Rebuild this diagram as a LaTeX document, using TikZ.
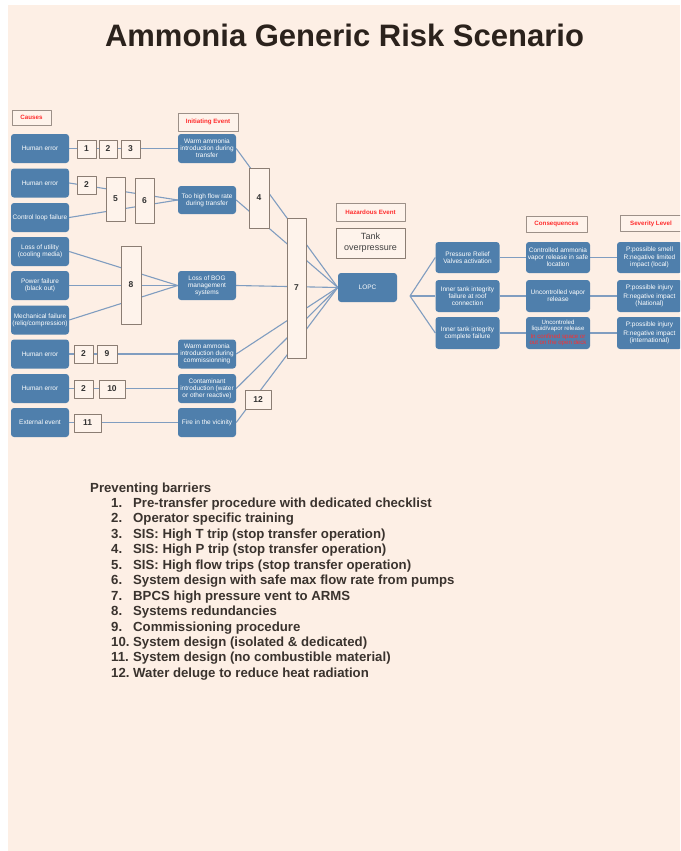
\documentclass[tikz,border=0pt]{standalone}
\usepackage{fontspec}
\setmainfont{Liberation Sans}
\definecolor{pagebg}{RGB}{253,239,229}
\definecolor{boxblue}{RGB}{79,127,172}
\definecolor{linkblue}{RGB}{128,157,192}
\definecolor{barfill}{RGB}{254,243,235}
\definecolor{barline}{RGB}{139,125,115}
\definecolor{titletxt}{RGB}{43,34,28}
\definecolor{listtxt}{RGB}{58,51,46}
\definecolor{hdrred}{RGB}{255,45,45}
\pgfdeclarelayer{back}
\pgfdeclarelayer{lines}
\pgfsetlayers{back,lines,main}
\begin{document}
\begin{tikzpicture}[x=1pt,y=-1pt,line join=round,line cap=round,
	blk/.style={fill=boxblue,text=white,rounded corners=3pt,inner sep=0pt,align=center,font=\fontsize{6.5}{7}\selectfont},
	cause/.style={blk,minimum width=58pt,minimum height=29pt},
	outc/.style={blk,minimum width=64pt,minimum height=32pt},
	bar/.style={draw=barline,fill=barfill,line width=1pt,inner sep=0pt,minimum height=18pt,font=\fontsize{8.5}{9}\selectfont\bfseries,text=black!80},
	hdr/.style={draw=barline!85,fill=barfill,line width=1pt,inner sep=0pt,text=hdrred,font=\fontsize{6.2}{7}\selectfont\bfseries},
	link/.style={draw=linkblue,line width=1.1pt}]
	\useasboundingbox (0,0) rectangle (680,851);
	\clip (0,0) rectangle (680,851);
	\begin{pgfonlayer}{back}
		\fill[pagebg] (8,5) rectangle (680,851);
	\end{pgfonlayer}
	\node[anchor=base,font=\fontsize{31}{36}\selectfont\bfseries,text=titletxt] (title) at (344.5,47) {Ammonia Generic Risk Scenario};
	% headers
	\node[hdr,minimum width=39pt,minimum height=15pt] (hcause) at (31.5,117.5) {Causes};
	\node[hdr,minimum width=60pt,minimum height=18pt] (hinit) at (208,122) {Initiating Event};
	\node[hdr,minimum width=69pt,minimum height=18pt] (hhaz) at (370.5,212) {Hazardous Event};
	\node[hdr,minimum width=61pt,minimum height=16pt] (hcons) at (556.5,224) {Consequences};
	\node[hdr,minimum width=62pt,minimum height=16pt] (hsev) at (651,223.5) {Severity Level};
	% causes
	\node[cause] (he1) at (40,148.5) {Human error};
	\node[cause] (he2) at (40,183) {Human error};
	\node[cause] (clf) at (40,217.5) {Control loop failure};
	\node[cause] (lou) at (40,251.5) {Loss of utility\\(cooling media)};
	\node[cause] (pf) at (40,285.5) {Power failure\\(black out)};
	\node[cause] (mf) at (40,320) {Mechanical failure\\(reliq/compression)};
	\node[cause] (he3) at (40,354) {Human error};
	\node[cause] (he4) at (40,388.5) {Human error};
	\node[cause] (ext) at (40,422.5) {External event};
	% initiating events
	\node[cause] (wat) at (207,148.5) {Warm ammonia\\introduction during\\transfer};
	\node[cause,minimum height=28pt] (hfr) at (207,200) {Too high flow rate\\during transfer};
	\node[cause] (bog) at (207,285.5) {Loss of BOG\\management\\systems};
	\node[cause] (wac) at (207,354) {Warm ammonia\\introduction during\\commissionning};
	\node[cause] (cont) at (207,388.5) {Contaminant\\introduction (water\\or other reactive)};
	\node[cause] (fire) at (207,422.5) {Fire in the vicinity};
	% barriers
	\node[bar,minimum width=19pt] (b1) at (86.5,149) {1};
	\node[bar,minimum width=18pt] (b2a) at (108,149) {2};
	\node[bar,minimum width=19pt] (b3) at (130.5,149) {3};
	\node[bar,minimum width=19pt] (b2b) at (86.5,185) {2};
	\node[bar,minimum width=19pt,minimum height=44pt] (b5) at (115.5,199) {5};
	\node[bar,minimum width=19pt,minimum height=45pt] (b6) at (144.5,200.5) {6};
	\node[bar,minimum width=20pt,minimum height=78pt] (b8) at (131,285) {8};
	\node[bar,minimum width=19pt] (b2c) at (83.5,354) {2};
	\node[bar,minimum width=20pt] (b9) at (107,354) {9};
	\node[bar,minimum width=19pt] (b2d) at (83.5,389) {2};
	\node[bar,minimum width=26pt] (b10) at (112,389) {10};
	\node[bar,minimum width=27pt] (b11) at (87.5,423) {11};
	\node[bar,minimum width=20pt,minimum height=60pt] (b4) at (259,198) {4};
	\node[bar,minimum width=19pt,minimum height=140pt] (b7) at (296.5,288) {7};
	\node[bar,minimum width=26pt,minimum height=19pt] (b12) at (258,399.5) {12};
	% hazardous event
	\node[draw=barline,fill=barfill,line width=1pt,inner sep=0pt,minimum width=69pt,minimum height=30pt,align=center,font=\fontsize{9}{10.7}\selectfont,text=black!75] (tank) at (370.5,243) {Tank\\overpressure};
	\node[blk,minimum width=59pt,minimum height=29pt] (lopc) at (367.5,287.5) {LOPC};
	\coordinate (fan) at (410,296);
	% outcomes and consequences
	\node[outc,minimum height=31pt] (prv) at (467.5,257.5) {Pressure Relief\\Valves activation};
	\node[outc] (itr) at (467.5,296) {Inner tank integrity\\failure at roof\\connection};
	\node[outc] (itc) at (467.5,333) {Inner tank integrity\\complete failure};
	\node[outc,minimum height=31pt] (q1) at (558,257.5) {Controlled ammonia\\vapor release in safe\\location};
	\node[outc] (q2) at (558,296) {Uncontrolled vapor\\release};
	\node[outc,font=\fontsize{6.1}{6.4}\selectfont] (q3) at (558,333) {Uncontroled\\liquid/vapor release\\[1.5pt]\textcolor{hdrred}{In confined space or}\\\textcolor{hdrred}{out on the open deck}};
	\node[outc,minimum height=31pt,minimum width=65pt] (s1) at (649.5,257.5) {P:possible smell\\[1.5pt]R:negative limited\\impact (local)};
	\node[outc,minimum width=65pt] (s2) at (649.5,296) {P:possible injury\\[1.5pt]R:negative impact\\(National)};
	\node[outc,minimum width=65pt] (s3) at (649.5,333) {P:possible injury\\[1.5pt]R:negative impact\\(international)};
	% connectors
	\begin{pgfonlayer}{lines}
		\draw[link] (he1.east) -- (wat.west);
		\draw[link] (he2.east) -- (hfr.west);
		\draw[link] (clf.east) -- (hfr.west);
		\draw[link] (lou.east) -- (bog.west);
		\draw[link] (pf.east) -- (bog.west);
		\draw[link] (mf.east) -- (bog.west);
		\draw[link] (he3.east) -- (wac.west);
		\draw[link] (he4.east) -- (cont.west);
		\draw[link] (ext.east) -- (fire.west);
		\draw[link] (wat.east) -- (lopc.west);
		\draw[link] (hfr.east) -- (lopc.west);
		\draw[link] (bog.east) -- (lopc.west);
		\draw[link] (wac.east) -- (lopc.west);
		\draw[link] (cont.east) -- (lopc.west);
		\draw[link] (fire.east) -- (lopc.west);
		\draw[link] (fan) -- (prv.west);
		\draw[link] (fan) -- (itr.west);
		\draw[link] (fan) -- (itc.west);
		\draw[link] (prv.east) -- (q1.west) (q1.east) -- (s1.west);
		\draw[link] (itr.east) -- (q2.west) (q2.east) -- (s2.west);
		\draw[link] (itc.east) -- (q3.west) (q3.east) -- (s3.west);
	\end{pgfonlayer}
	% barrier list
	\node[anchor=base west,inner sep=0pt,text=listtxt,font=\fontsize{13.2}{15.45}\selectfont\bfseries] (barlist) at (90,492) {%
		\begin{tabular}[t]{@{\hspace{21pt}}p{22pt}@{}l@{}}
			\multicolumn{2}{@{}l@{}}{Preventing barriers}\\
			1. & Pre-transfer procedure with dedicated checklist\\
			2. & Operator specific training\\
			3. & SIS: High T trip (stop transfer operation)\\
			4. & SIS: High P trip (stop transfer operation)\\
			5. & SIS: High flow trips (stop transfer operation)\\
			6. & System design with safe max flow rate from pumps\\
			7. & BPCS high pressure vent to ARMS\\
			8. & Systems redundancies\\
			9. & Commissioning procedure\\
			10. & System design (isolated \& dedicated)\\
			11. & System design (no combustible material)\\
			12. & Water deluge to reduce heat radiation
		\end{tabular}};
\end{tikzpicture}
\end{document}
